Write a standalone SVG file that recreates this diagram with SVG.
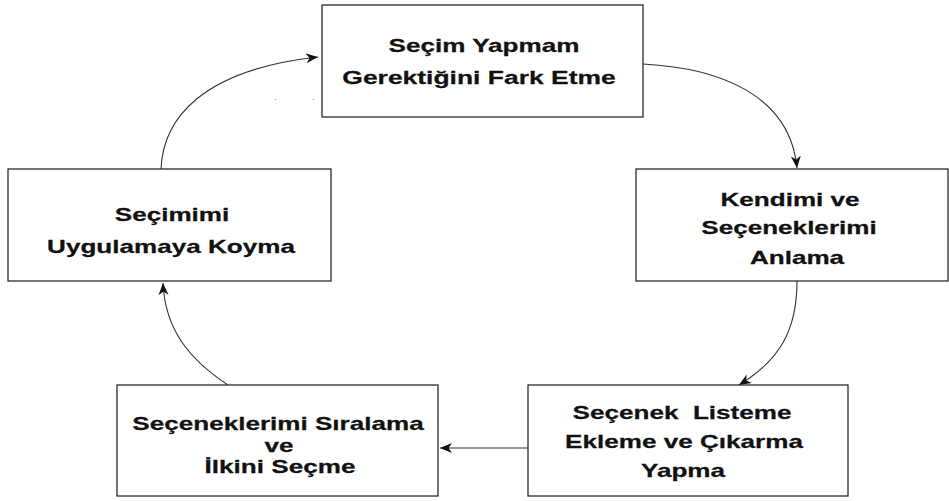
<svg xmlns="http://www.w3.org/2000/svg" width="949" height="501" viewBox="0 0 949 501">
  <style>
    .box { fill: #ffffff; stroke: #2b2b2b; stroke-width: 1.3; }
    .lbl { font-family: "Liberation Sans", Arial, sans-serif; font-weight: bold; font-size: 18.5px; fill: #111111; stroke: #111111; stroke-width: 0.25; text-anchor: middle; white-space: pre; }
    .edge { fill: none; stroke: #333333; stroke-width: 1.1; }
  </style>
  <defs>
    <marker id="arrow" markerUnits="userSpaceOnUse" markerWidth="14" markerHeight="12" refX="12" refY="5" orient="auto">
      <path d="M0,0 L12,5 L0,10 L3.5,5 Z" fill="#111111"/>
    </marker>
  </defs>
  <rect width="949" height="501" fill="#ffffff"/>

  <g id="connectors">
    <path class="edge" d="M643,64 C720,68 790,95 797,168" marker-end="url(#arrow)"/>
    <path class="edge" d="M797,281 C797,330 780,360 739,385" marker-end="url(#arrow)"/>
    <path class="edge" d="M528,448 L440,448" marker-end="url(#arrow)"/>
    <path class="edge" d="M228,385 C190,360 165,330 163,283" marker-end="url(#arrow)"/>
    <path class="edge" d="M161,169 C163,120 200,70 318,57" marker-end="url(#arrow)"/>
    <rect x="275" y="99" width="1" height="1" fill="#888888"/>
    <rect x="313" y="99" width="1" height="1" fill="#888888"/>
  </g>

  <!-- labels use a wide horizontal scale (1.41) on Liberation Sans Bold -->
  <g id="node-fark-etme">
    <rect class="box" x="322" y="5" width="321" height="112"/>
    <text class="lbl" transform="matrix(1.41 0 0 1 484 52)">Seçim Yapmam</text>
    <text class="lbl" transform="matrix(1.43 0 0 1 479 84)">Gerektiğini Fark Etme</text>
  </g>

  <g id="node-anlama">
    <rect class="box" x="636" y="169" width="312" height="112"/>
    <text class="lbl" transform="matrix(1.41 0 0 1 790 206)">Kendimi ve</text>
    <text class="lbl" transform="matrix(1.41 0 0 1 789 234)">Seçeneklerimi</text>
    <text class="lbl" transform="matrix(1.41 0 0 1 797 264)">Anlama</text>
  </g>

  <g id="node-listeme">
    <rect class="box" x="528" y="385" width="320" height="111"/>
    <text class="lbl" xml:space="preserve" transform="matrix(1.41 0 0 1 682 419)">Seçenek  Listeme</text>
    <text class="lbl" transform="matrix(1.41 0 0 1 684 448)">Ekleme ve Çıkarma</text>
    <text class="lbl" transform="matrix(1.41 0 0 1 683 477)">Yapma</text>
  </g>

  <g id="node-siralama">
    <rect class="box" x="117" y="385" width="321" height="111"/>
    <text class="lbl" transform="matrix(1.41 0 0 1 278 430)">Seçeneklerimi Sıralama</text>
    <text class="lbl" transform="matrix(1.41 0 0 1 279 452)">ve</text>
    <text class="lbl" transform="matrix(1.41 0 0 1 280 473)">İlkini Seçme</text>
  </g>

  <g id="node-uygulama">
    <rect class="box" x="8" y="169" width="323" height="112"/>
    <text class="lbl" transform="matrix(1.41 0 0 1 172 221)">Seçimimi</text>
    <text class="lbl" transform="matrix(1.41 0 0 1 171 253)">Uygulamaya Koyma</text>
  </g>
</svg>
